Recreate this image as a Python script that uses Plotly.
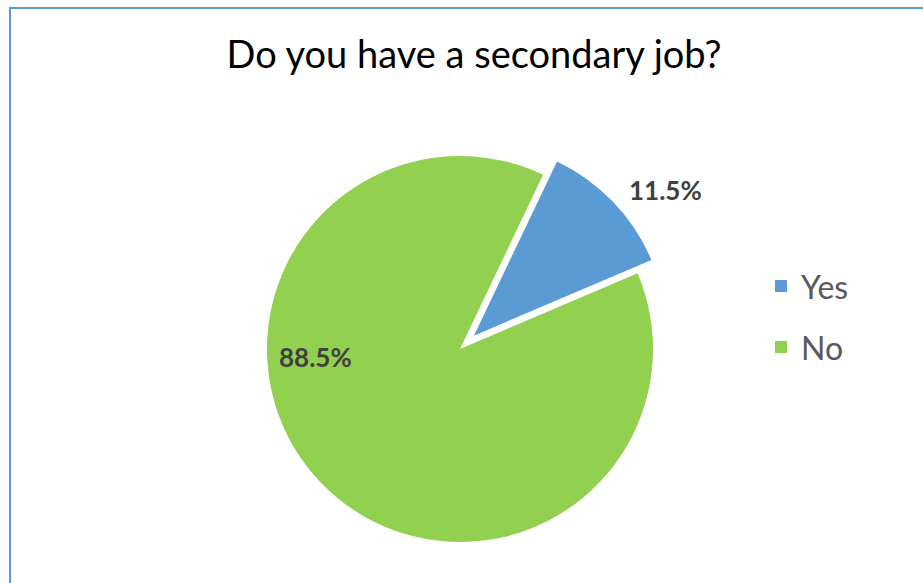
import plotly.graph_objects as go

# Survey answers and their shares (percent)
labels = ["Yes", "No"]
values = [11.5, 88.5]
colors = ["#5B9BD5", "#92D050"]
title_text = "Do you have a secondary job?"

W, H = 923, 583
FONT = "Lato, Carlito, Calibri, sans-serif"

# pie geometry in pixels
cx, cy = 460, 349
radius = 193
pull_yes = 0.10
half = radius * (1 + pull_yes)

fig = go.Figure(
    go.Pie(
        labels=labels,
        values=values,
        marker=dict(colors=colors, line=dict(width=0)),
        sort=False,
        direction="clockwise",
        rotation=25.5,
        pull=[pull_yes, 0],
        textinfo="none",
        hoverinfo="label+percent",
        showlegend=False,
        domain=dict(
            x=[(cx - half) / W, (cx + half) / W],
            y=[(H - cy - half) / H, (H - cy + half) / H],
        ),
    )
)

annotations = []
shapes = []

# value labels
label_pos = [(665, 190), (315, 357)]
for v, (px, py) in zip(values, label_pos):
    annotations.append(dict(
        x=px / W, y=1 - py / H, xref="paper", yref="paper",
        text=f"<b>{v:.1f}%</b>", showarrow=False,
        font=dict(family=FONT, size=26, color="#404040"),
        xanchor="center", yanchor="middle",
    ))

# legend: coloured squares with category names
leg_x, leg_y0, leg_dy, sq = 775, 286, 61, 12
for i, (lab, col) in enumerate(zip(labels, colors)):
    ly = leg_y0 + i * leg_dy
    shapes.append(dict(
        type="rect", xref="paper", yref="paper",
        x0=leg_x / W, x1=(leg_x + sq) / W,
        y0=1 - (ly + sq / 2) / H, y1=1 - (ly - sq / 2) / H,
        fillcolor=col, line=dict(width=0),
    ))
    annotations.append(dict(
        x=(leg_x + sq + 12) / W, y=1 - ly / H, xref="paper", yref="paper",
        text=lab, showarrow=False,
        font=dict(family=FONT, size=32, color="#595959"),
        xanchor="left", yanchor="middle",
    ))

# chart-area border
shapes.append(dict(
    type="rect", xref="paper", yref="paper",
    x0=10 / W, x1=1.02, y0=-0.02, y1=1 - 8 / H,
    line=dict(color="#5B9BD5", width=2), fillcolor="rgba(0,0,0,0)",
))

fig.update_layout(
    width=W, height=H,
    margin=dict(l=0, r=0, t=0, b=0),
    paper_bgcolor="white",
    plot_bgcolor="white",
    title=dict(
        text=title_text, x=474 / W, xanchor="center",
        y=1 - 55 / H, yanchor="middle",
        font=dict(family=FONT, size=38, color="#000000"),
    ),
    annotations=annotations,
    shapes=shapes,
)

fig.write_html("out.html")
